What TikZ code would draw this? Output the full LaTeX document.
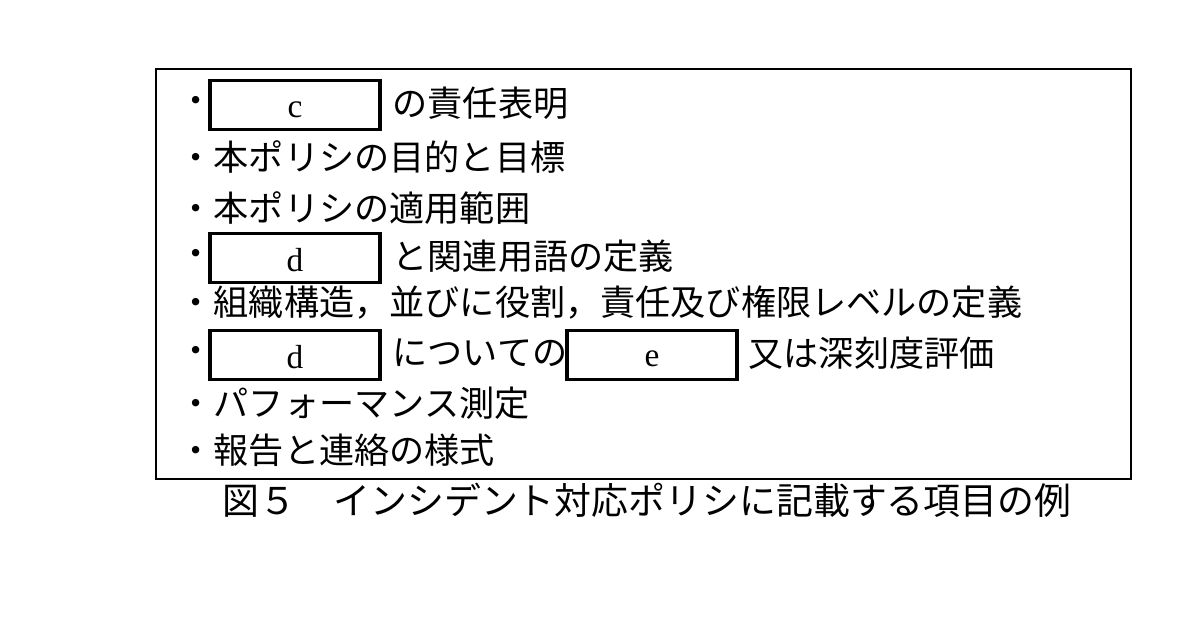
\documentclass[tikz,border=0pt]{standalone}
\usepackage{fontspec}
\setmainfont{Liberation Serif}
\newfontfamily\cjk{Noto Sans CJK JP}
\begin{document}
\begin{tikzpicture}[x=1mm,y=-1mm,
  t/.style={anchor=west,inner sep=0pt,font=\cjk\fontsize{10}{11}\selectfont},
  blank/.style={draw,line width=0.9pt,minimum width=17mm,minimum height=4.9mm,inner sep=0pt,font=\fontsize{9.5}{10}\selectfont},
  lt/.style={anchor=center,inner sep=0pt,font=\fontsize{9.5}{10}\selectfont}]
\useasboundingbox (0,0) rectangle (120,62.8);
\node[draw,line width=0.6pt,minimum width=97.5mm,minimum height=41mm,anchor=north west] (frame) at (15.5,6.8) {};
\node[t] (b1) at (17.8,10.5) {・};
\node[blank] (c) at (29.5,10.5) {};
\node[lt] (cl) at (29.5,11.0) {c};
\node[t] (l1) at (39.2,10.3) {の責任表明};
\node[t] (l2) at (17.8,15.7) {・本ポリシの目的と目標};
\node[t] (l3) at (17.8,20.8) {・本ポリシの適用範囲};
\node[t] (b4) at (17.8,25.8) {・};
\node[blank] (d1) at (29.5,25.8) {};
\node[lt] (dl1) at (29.5,26.0) {d};
\node[t] (l4) at (39.2,25.6) {と関連用語の定義};
\node[t] (l5) at (17.8,30.3) {・組織構造，並びに役割，責任及び権限レベルの定義};
\node[t] (b6) at (17.8,35.5) {・};
\node[blank] (d2) at (29.5,35.5) {};
\node[lt] (dl2) at (29.5,35.7) {d};
\node[t] (l6a) at (39.2,35.3) {についての};
\node[blank] (e) at (65.2,35.5) {};
\node[lt] (el) at (65.2,35.9) {e};
\node[t] (l6b) at (74.8,35.3) {又は深刻度評価};
\node[t] (l7) at (17.8,40.3) {・パフォーマンス測定};
\node[t] (l8) at (17.8,45.0) {・報告と連絡の様式};
\node[anchor=west,inner sep=0pt,font=\cjk\fontsize{10.5}{12}\selectfont] (cap) at (22.2,50.0) {図５\quad インシデント対応ポリシに記載する項目の例};
\end{tikzpicture}
\end{document}
